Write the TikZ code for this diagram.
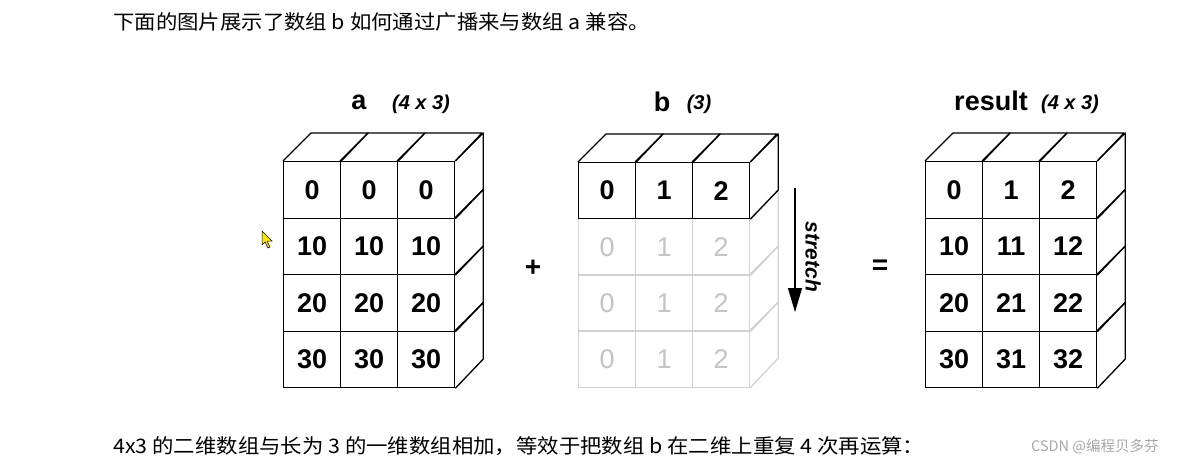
\documentclass[tikz,border=0pt]{standalone}
\usepackage{fontspec}
\setmainfont{Liberation Sans}
\newfontfamily\cjk{Noto Sans CJK SC}
\usetikzlibrary{arrows.meta}
\definecolor{fadeline}{HTML}{D2D2D2}
\definecolor{fadetext}{HTML}{C4C4C4}
\definecolor{wm}{HTML}{A8A8A8}
\tikzset{
  cell/.style={draw, line width=1.3pt, minimum width=57pt, minimum height=56.5pt, inner sep=0pt,
    anchor=north west, font=\fontsize{27}{27}\selectfont\bfseries},
  fadecell/.style={cell, draw=fadeline, text=fadetext, font=\fontsize{27}{27}\selectfont},
  edge/.style={line width=1.3pt, line join=round},
  fadeedge/.style={edge, draw=fadeline},
  title/.style={font=\fontsize{27}{27}\selectfont\bfseries, inner sep=0pt},
  subtitle/.style={font=\fontsize{20}{20}\selectfont\bfseries\itshape, inner sep=0pt},
  cjktext/.style={font=\cjk\fontsize{20}{20}\selectfont, anchor=west, inner sep=0pt},
  op/.style={font=\fontsize{28}{28}\selectfont\bfseries, inner sep=0pt}
}
\begin{document}
\begin{tikzpicture}[x=1pt,y=-1pt]
\useasboundingbox (0,0) rectangle (1184,468);
\fill[white] (0,0) rectangle (1184,468);

% texts
\node[cjktext] (toptext) at (113,22) {\scalebox{1.07}[1]{下面的图片展示了数组 b 如何通过广播来与数组 a 兼容。}};
\node[cjktext] (bottext) at (113,446) {\scalebox{1.07}[1]{4x3 的二维数组与长为 3 的一维数组相加，等效于把数组 b 在二维上重复 4 次再运算：}};
\node[cjktext, text=wm, font=\cjk\fontsize{14.5}{14.5}\selectfont] (wmark) at (1031,447) {CSDN @编程贝多芬};

% titles
\node[title] (ta) at (359,102) {a};
\node[subtitle] (tas) at (421,104) {(4 x 3)};
\node[title] (tb) at (662,102) {b};
\node[subtitle] (tbs) at (699,104) {(3)};
\node[title] (tr) at (991,101) {result};
\node[subtitle] (trs) at (1070,104) {(4 x 3)};

% array a
\foreach \r/\v in {0/0,1/10,2/20,3/30}
  \foreach \c in {0,1,2}
    \node[cell] (a-\r-\c) at ({283+\c*57},{161+\r*56.5}) {\v};
\foreach \c in {0,1,2}
  \draw[edge] (a-0-\c.north west) -- ++(28,-28) -- ++(57,0) -- (a-0-\c.north east);
\foreach \r in {0,1,2,3}
  \draw[edge] (a-\r-2.north east) -- ++(28,-28) -- ++(0,56.5) -- (a-\r-2.south east);

% array b (faded rows first)
\foreach \r in {1,2,3}
  \foreach \c in {0,1,2}
    \node[fadecell] (b-\r-\c) at ({578+\c*57},{162+\r*56}) {\c};
\foreach \r in {1,2,3}
  \draw[fadeedge] (b-\r-2.north east) -- ++(28,-28) -- ++(0,56) -- (b-\r-2.south east);
\foreach \c in {0,1,2}
  \node[cell, minimum height=56pt] (b-0-\c) at ({578+\c*57},162) {\c};
\foreach \c in {0,1,2}
  \draw[edge] (b-0-\c.north west) -- ++(28,-28) -- ++(57,0) -- (b-0-\c.north east);
\draw[edge] (b-0-2.north east) -- ++(28,-28) -- ++(0,56) -- (b-0-2.south east);

% stretch arrow
\coordinate (s1) at (795,188);
\coordinate (s2) at (795,312);
\draw[line width=1.2pt, -{Triangle[length=24pt,width=14pt]}] (s1) -- (s2);
\node[font=\fontsize{21}{21}\selectfont\bfseries\itshape, rotate=-90, inner sep=0pt] (stretch) at (813,257) {stretch};

% result
\foreach \r in {0,1,2,3}
  \foreach \c in {0,1,2}
    \pgfmathtruncatemacro{\v}{\r*10+\c}
    \node[cell] (r-\r-\c) at ({925+\c*57},{161+\r*56.5}) {\v};
\foreach \c in {0,1,2}
  \draw[edge] (r-0-\c.north west) -- ++(28,-28) -- ++(57,0) -- (r-0-\c.north east);
\foreach \r in {0,1,2,3}
  \draw[edge] (r-\r-2.north east) -- ++(28,-28) -- ++(0,56.5) -- (r-\r-2.south east);

% operators
\node[op] (plus) at (533,268) {+};
\node[op] (eq) at (880,267) {=};

% mouse cursor
\fill[yellow!90!orange, draw=black, line width=0.5pt] (262,231) -- (262,245) -- (265,242) -- (268,248) -- (270,247) -- (267,241) -- (272,241) -- cycle;
\end{tikzpicture}
\end{document}
